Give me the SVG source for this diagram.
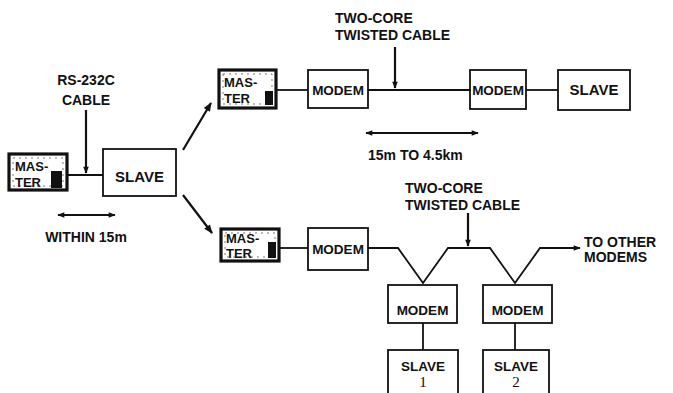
<svg xmlns="http://www.w3.org/2000/svg" width="673" height="393" viewBox="0 0 673 393">
<defs>
<style>
.box{fill:#fff;stroke:#111;stroke-width:1.8}
.mst{fill:#fff;stroke:#111;stroke-width:3.2}
.tex{fill:none;stroke:#555;stroke-width:0.8;stroke-dasharray:2 4}
.t{font-family:"Liberation Sans",Arial,sans-serif;font-weight:bold;font-size:14px;fill:#111}
.tm{font-family:"Liberation Sans",Arial,sans-serif;font-weight:bold;font-size:13.5px;fill:#111}
.ts{font-family:"Liberation Sans",Arial,sans-serif;font-weight:bold;font-size:15px;fill:#111}
.tmas{font-family:"Liberation Sans",Arial,sans-serif;font-weight:bold;font-size:13px;fill:#111}
.num{font-family:"Liberation Serif","Times New Roman",serif;font-size:15px;fill:#111}
.ln{fill:none;stroke:#111;stroke-width:1.8}
.ar{fill:none;stroke:#111;stroke-width:2.2}
</style>
<marker id="ahs" viewBox="0 0 10 10" refX="9" refY="5" markerWidth="11" markerHeight="7" orient="auto-start-reverse" markerUnits="userSpaceOnUse">
<path d="M0,1 L10,5 L0,9 Z" fill="#111"/>
</marker>
<marker id="ahb" viewBox="0 0 10 10" refX="9" refY="5" markerWidth="13" markerHeight="9" orient="auto-start-reverse" markerUnits="userSpaceOnUse">
<path d="M0,1 L10,5 L0,9 Z" fill="#111"/>
</marker>
</defs>

<g id="connectors">
<line class="ln" x1="68" y1="175" x2="103" y2="175"/>
<line class="ar" x1="86" y1="110" x2="86" y2="173" marker-end="url(#ahs)"/>
<line class="ar" x1="58" y1="215" x2="115" y2="215" marker-start="url(#ahs)" marker-end="url(#ahs)"/>
<line class="ar" x1="183" y1="150" x2="211" y2="103" stroke-width="3" marker-end="url(#ahb)"/>
<line class="ar" x1="183" y1="195" x2="212" y2="233" stroke-width="3" marker-end="url(#ahb)"/>
<line class="ln" x1="277" y1="90" x2="308" y2="90"/>
<line class="ln" x1="368" y1="90" x2="470" y2="90"/>
<line class="ln" x1="526" y1="90" x2="558" y2="90"/>
<line class="ar" x1="395" y1="47" x2="395" y2="88" marker-end="url(#ahs)"/>
<line class="ar" x1="366" y1="133" x2="478" y2="133" marker-start="url(#ahs)" marker-end="url(#ahs)"/>
<line class="ln" x1="280" y1="248" x2="308" y2="248"/>
<polyline class="ln" points="368,248 398,248 423,283 448,248 490,248 515,283 540,248 580,248" marker-end="url(#ahs)"/>
<line class="ar" x1="468" y1="213" x2="468" y2="246" marker-end="url(#ahs)"/>
<line class="ln" x1="423" y1="323" x2="423" y2="350"/>
<line class="ln" x1="515" y1="323" x2="515" y2="350"/>
</g>

<g id="label-rs232">
<text class="t" x="86" y="85" text-anchor="middle">RS-232C</text>
<text class="t" x="86" y="105" text-anchor="middle">CABLE</text>
</g>
<g id="label-within">
<text class="t" x="86" y="242" text-anchor="middle">WITHIN 15m</text>
</g>

<g id="master1">
<rect class="mst" x="9" y="154" width="58" height="36"/>
<rect class="tex" x="13" y="158" width="50" height="28"/>
<rect x="51" y="171" width="11" height="17" fill="#111"/>
<text class="tmas" x="15" y="171">MAS-</text>
<text class="tmas" x="15" y="187">TER</text>
</g>
<g id="slave1">
<rect class="box" x="103" y="149" width="73" height="47"/>
<text class="ts" x="139.5" y="182" text-anchor="middle">SLAVE</text>
</g>

<g id="label-top-cable">
<text class="t" x="335" y="23">TWO-CORE</text>
<text class="t" x="335" y="40">TWISTED CABLE</text>
</g>
<g id="label-dist">
<text class="t" x="368" y="160">15m TO 4.5km</text>
</g>

<g id="master2">
<rect class="mst" x="219" y="70" width="57" height="38"/>
<rect class="tex" x="223" y="74" width="49" height="30"/>
<rect x="265" y="91" width="8" height="14" fill="#111"/>
<text class="tmas" x="224" y="87">MAS-</text>
<text class="tmas" x="224" y="103">TER</text>
</g>
<g id="modem-top1">
<rect class="box" x="308" y="70" width="60" height="38"/>
<text class="tm" x="338" y="95" text-anchor="middle">MODEM</text>
</g>
<g id="modem-top2">
<rect class="box" x="470" y="70" width="56" height="39"/>
<text class="tm" x="498" y="95" text-anchor="middle">MODEM</text>
</g>
<g id="slave-top">
<rect class="box" x="558" y="70" width="72" height="40"/>
<text class="ts" x="594" y="95" text-anchor="middle">SLAVE</text>
</g>

<g id="label-bottom-cable">
<text class="t" x="405" y="193">TWO-CORE</text>
<text class="t" x="405" y="210">TWISTED CABLE</text>
</g>
<g id="label-other">
<text class="t" x="584" y="247">TO OTHER</text>
<text class="t" x="584" y="262">MODEMS</text>
</g>

<g id="master3">
<rect class="mst" x="221" y="229" width="58" height="32"/>
<rect class="tex" x="225" y="233" width="50" height="24"/>
<rect x="268" y="242" width="8" height="16" fill="#111"/>
<text class="tmas" x="226" y="243" font-size="12">MAS-</text>
<text class="tmas" x="226" y="258" font-size="12">TER</text>
</g>
<g id="modem-b0">
<rect class="box" x="308" y="228" width="60" height="42"/>
<text class="tm" x="338" y="254" text-anchor="middle">MODEM</text>
</g>
<g id="modem-b1">
<rect class="box" x="388" y="285" width="69" height="38"/>
<text class="tm" x="422.5" y="315" text-anchor="middle">MODEM</text>
</g>
<g id="modem-b2">
<rect class="box" x="483" y="285" width="69" height="38"/>
<text class="tm" x="517.5" y="315" text-anchor="middle">MODEM</text>
</g>
<g id="slave-b1">
<rect class="box" x="388" y="350" width="70" height="45"/>
<text class="tm" x="423" y="371" text-anchor="middle">SLAVE</text>
<text class="num" x="423" y="387" text-anchor="middle">1</text>
</g>
<g id="slave-b2">
<rect class="box" x="483" y="350" width="66" height="45"/>
<text class="tm" x="516" y="371" text-anchor="middle">SLAVE</text>
<text class="num" x="516" y="387" text-anchor="middle">2</text>
</g>
</svg>
